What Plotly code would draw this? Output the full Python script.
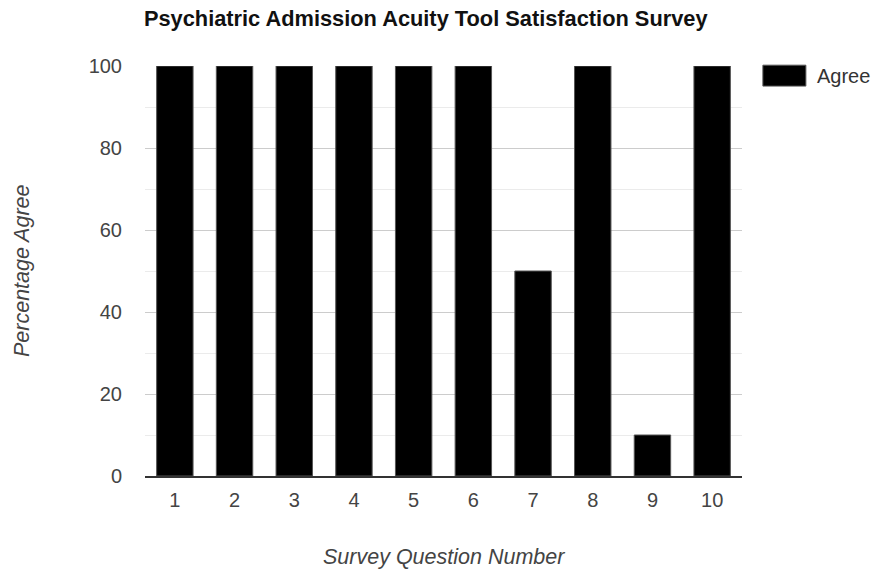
import plotly.graph_objects as go

questions = ["1", "2", "3", "4", "5", "6", "7", "8", "9", "10"]
agree_pct = [100, 100, 100, 100, 100, 100, 50, 100, 10, 100]
y_ticks = [0, 20, 40, 60, 80, 100]

fig = go.Figure()
fig.add_trace(go.Bar(
    x=questions, y=agree_pct, name="Agree",
    marker=dict(color="#000000", line=dict(color="#555555", width=1)),
    width=0.61, showlegend=False,
))

font_family = "Liberation Sans, Arial, sans-serif"

fig.update_layout(
    width=876, height=571,
    margin=dict(l=145, r=134, t=66, b=95),
    paper_bgcolor="white", plot_bgcolor="white",
    font=dict(family=font_family, size=20, color="#444444"),
    title=dict(text="<b>Psychiatric Admission Acuity Tool Satisfaction Survey</b>",
               x=0.486, xanchor="center", y=0.968, yanchor="middle",
               font=dict(size=21.8, color="#111111", family=font_family)),
    xaxis=dict(
        type="category", showgrid=False, ticks="", automargin=False,
        showline=True, linecolor="#333333", linewidth=1.5,
        ticklabelstandoff=5,
        tickfont=dict(size=20, color="#444444"),
    ),
    yaxis=dict(
        range=[0, 100], tickvals=y_ticks, automargin=False,
        showgrid=True, gridcolor="#cccccc", gridwidth=1,
        zeroline=False, ticks="", ticklabelstandoff=22,
        minor=dict(dtick=10, showgrid=True, gridcolor="#ebebeb", gridwidth=1),
        tickfont=dict(size=20, color="#444444"),
    ),
    bargap=0.39,
)

# axis titles
fig.add_annotation(xref="paper", yref="paper", x=0.5, y=-0.198,
                   text="<i>Survey Question Number</i>", showarrow=False,
                   xanchor="center", yanchor="middle",
                   font=dict(size=21.5, color="#444444", family=font_family))
fig.add_annotation(xref="paper", yref="paper", x=-0.206, y=0.5,
                   text="<i>Percentage Agree</i>", showarrow=False, textangle=-90,
                   xanchor="center", yanchor="middle",
                   font=dict(size=21.5, color="#444444", family=font_family))

# legend drawn manually to match wide swatch
fig.add_shape(type="rect", xref="paper", yref="paper",
              x0=1.035, x1=1.107, y0=0.951, y1=1.002,
              fillcolor="#000000", line=dict(color="#555555", width=1))
fig.add_annotation(xref="paper", yref="paper", x=1.122, y=0.976,
                   text="Agree", showarrow=False, xanchor="left", yanchor="middle",
                   font=dict(size=20, color="#333333", family=font_family))

fig.write_html("out.html")
